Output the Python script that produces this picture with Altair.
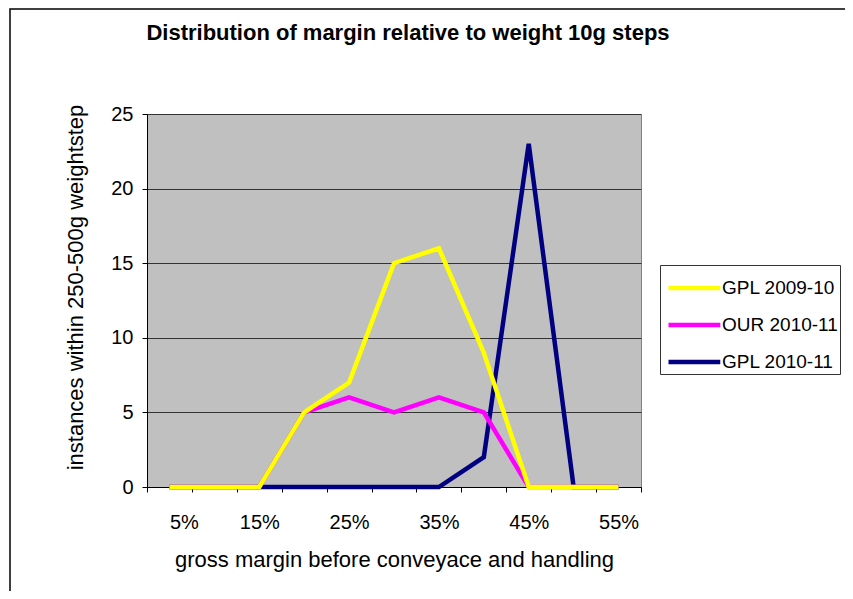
import altair as alt
import pandas as pd

margins = [5, 10, 15, 20, 25, 30, 35, 40, 45, 50, 55]
series_names = ["GPL 2009-10", "OUR 2010-11", "GPL 2010-11"]
gpl_0910 = [0, 0, 0, 5, 7, 15, 16, 9, 0, 0, 0]
our_1011 = [0, 0, 0, 5, 6, 5, 6, 5, 0, 0, 0]
gpl_1011 = [0, 0, 0, 0, 0, 0, 0, 2, 23, 0, 0]
colors = ["#FFFF00", "#FF00FF", "#000080"]
y_ticks = [0, 5, 10, 15, 20, 25]

rows = []
for name, vals in zip(series_names, [gpl_0910, our_1011, gpl_1011]):
    for m, v in zip(margins, vals):
        rows.append({"margin": m, "count": v, "series": name})
df = pd.DataFrame(rows)

FONT = "Liberation Sans"

x_tick_vals = [m - 2.5 for m in margins] + [margins[-1] + 2.5]

x_enc = alt.X(
    "margin:Q",
    scale=alt.Scale(domain=[2.5, 57.5], nice=False, zero=False),
    axis=alt.Axis(
        values=x_tick_vals,
        labelExpr="(datum.value - 2.5) % 10 == 0 && datum.value < 57 ? (datum.value + 2.5) + '%' : ''",
        labelOffset=22.5,
        grid=False,
        title="gross margin before conveyace and handling",
        titlePadding=17,
        labelPadding=20,
    ),
)
y_enc = alt.Y(
    "count:Q",
    scale=alt.Scale(domain=[0, 25], nice=False),
    axis=alt.Axis(
        values=y_ticks,
        grid=True,
        title="instances within 250-500g weightstep",
        titlePadding=23,
        titleY=173,
        labelPadding=9,
    ),
)
color_enc = alt.Color(
    "series:N",
    scale=alt.Scale(domain=series_names, range=colors),
    legend=alt.Legend(
        title=None,
        orient="none",
        legendX=513,
        legendY=151,
        symbolType="M-1,0H1.8",
        symbolSize=1369,
        symbolStrokeWidth=4.5,
        symbolOffset=4,
        labelFontSize=19,
        labelFont=FONT,
        labelColor="#000000",
        rowPadding=6,
        padding=2,
        strokeColor="#333333",
        fillColor="#FFFFFF",
        labelOffset=14,
        labelLimit=300,
    ),
)

frame = alt.Chart(pd.DataFrame({"a": [0]})).mark_rect(
    fill="#FFFFFF", fillOpacity=0, stroke="#000000", strokeWidth=1.5
).encode(
    x=alt.value(-137), x2=alt.value(730), y=alt.value(-105), y2=alt.value(510)
)

base = alt.Chart(df)
layers = [frame]
for name in reversed(series_names):
    layers.append(
        base.transform_filter(alt.datum.series == name)
        .mark_line(strokeWidth=4.5, strokeJoin="miter")
        .encode(x=x_enc, y=y_enc, color=color_enc)
    )

chart = alt.layer(*layers).properties(
    width=494,
    height=373,
    autosize=alt.AutoSizeParams(type="none"),
    padding={"left": 139, "top": 106, "right": 204, "bottom": 104},
    background="#FFFFFF",
    title=alt.TitleParams(
        "Distribution of margin relative to weight 10g steps",
        font=FONT,
        fontSize=22,
        fontWeight="bold",
        anchor="middle",
        frame="group",
        dx=14,
        offset=-37,
        color="#000000",
    ),
).configure_view(
    fill="#C0C0C0", stroke="#808080", strokeWidth=1
).configure_axis(
    labelFont=FONT,
    titleFont=FONT,
    labelFontSize=20,
    titleFontSize=22,
    titleFontWeight="normal",
    labelColor="#000000",
    titleColor="#000000",
    domainColor="#000000",
    tickColor="#000000",
    gridColor="#333333",
    gridWidth=1,
    tickSize=5,
)

chart.save("out.html", embed_options={"renderer": "svg", "actions": False})
